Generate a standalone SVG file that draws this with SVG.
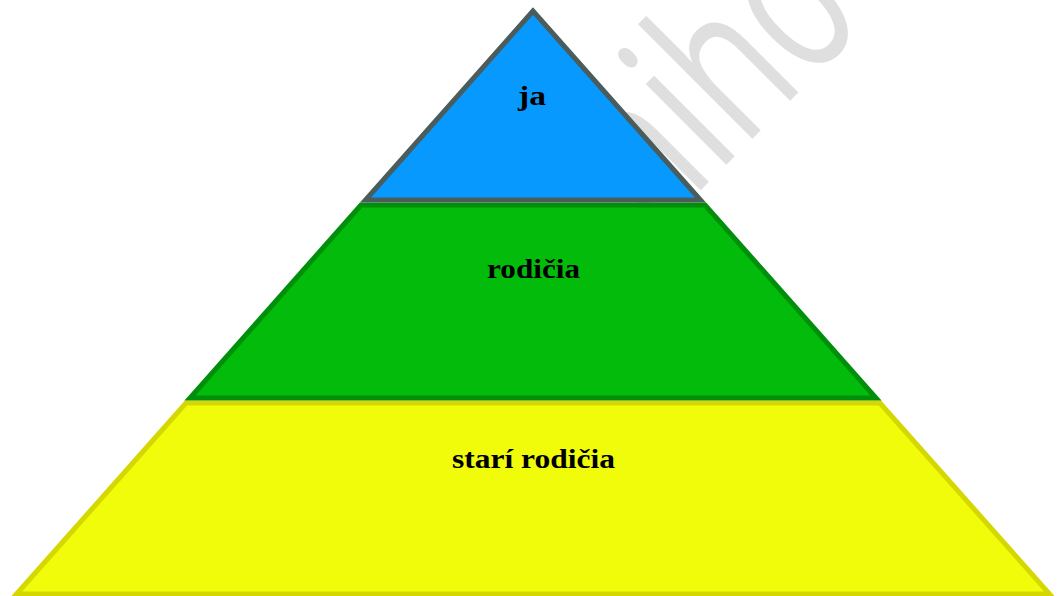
<svg xmlns="http://www.w3.org/2000/svg" width="1057" height="596" viewBox="0 0 1057 596">
  <style>
    .lbl { font-family: "Liberation Serif", "Times New Roman", serif; font-weight: bold; font-size: 28px; fill: #000; text-anchor: middle; }
    .layer { stroke-width: 5; stroke-linejoin: miter; }
    .wm { font-family: "Open Sans", "DejaVu Sans", sans-serif; font-size: 213px; fill: #dfdfdf; }
  </style>
  <rect width="1057" height="596" fill="#ffffff"/>
  <g id="watermark" transform="rotate(-45) scale(0.686,1)">
    <text class="wm" x="430" y="630">niho</text>
  </g>
  <g id="connectors"></g>
  <g id="layer-stari-rodicia">
    <polygon class="layer" points="186,403 880,403 1049.5,594 16.5,594" fill="#f0fc0a" stroke="#d4d800"/>
    <text class="lbl" x="533.5" y="468" textLength="163" lengthAdjust="spacingAndGlyphs">starí rodičia</text>
  </g>
  <g id="layer-rodicia">
    <polygon class="layer" points="361,205 705,205 876,398 190,398" fill="#03bb0b" stroke="#008f0a"/>
    <text class="lbl" x="533.5" y="278" textLength="93" lengthAdjust="spacingAndGlyphs">rodičia</text>
  </g>
  <g id="layer-ja">
    <polygon class="layer" points="533,11 365.5,200 700.5,200" fill="#0899ff" stroke="#4a5c5c"/>
    <text class="lbl" x="532" y="105" textLength="28" lengthAdjust="spacingAndGlyphs">ja</text>
  </g>
</svg>
